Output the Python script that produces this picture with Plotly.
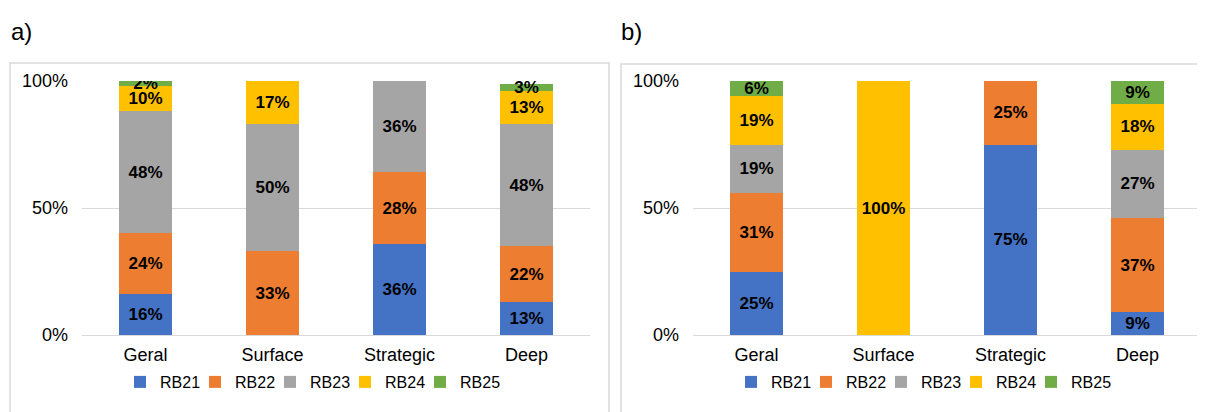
import plotly.graph_objects as go

categories = ["Geral", "Surface", "Strategic", "Deep"]
series_names = ["RB21", "RB22", "RB23", "RB24", "RB25"]
colors = ["#4472C4", "#ED7D31", "#A5A5A5", "#FFC000", "#70AD47"]

# Panel a) values (percent)
a_RB21 = [16, 0, 36, 13]
a_RB22 = [24, 33, 28, 22]
a_RB23 = [48, 50, 36, 48]
a_RB24 = [10, 17, 0, 13]
a_RB25 = [2, 0, 0, 3]

# Panel b) values (percent)
b_RB21 = [25, 0, 75, 9]
b_RB22 = [31, 0, 25, 37]
b_RB23 = [19, 0, 0, 27]
b_RB24 = [19, 100, 0, 18]
b_RB25 = [6, 0, 0, 9]

panel_a = [a_RB21, a_RB22, a_RB23, a_RB24, a_RB25]
panel_b = [b_RB21, b_RB22, b_RB23, b_RB24, b_RB25]

W, H = 1205, 412
OFF = 8  # page body margin offset
FONT = "Liberation Sans, Arial, sans-serif"


def px(xp):
    return (xp - OFF) / W


def py(yp):
    return 1 - (yp - OFF) / H


fig = go.Figure()

for data, xa, ya, leg in [(panel_a, "x", "y", "legend"), (panel_b, "x2", "y2", "legend2")]:
    for name, vals, col in zip(series_names, data, colors):
        fig.add_trace(go.Bar(
            x=categories,
            y=[v / 100 for v in vals],
            name=name,
            marker=dict(color=col, line=dict(width=0)),
            text=[f"{v}%" if v > 0 else "" for v in vals],
            textposition="inside",
            insidetextanchor="middle",
            textangle=0,
            textfont=dict(family=FONT, size=17, color="black", weight="bold"),
            xaxis=xa, yaxis=ya,
            legend=leg,
            hoverinfo="skip",
        ))
    # spacer entry so the last legend label is not clipped
    fig.add_trace(go.Bar(
        x=[None], y=[None], name=" ",
        marker=dict(color="rgba(0,0,0,0)", line=dict(width=0)),
        xaxis=xa, yaxis=ya, legend=leg, hoverinfo="skip",
    ))

ydom = [py(335), py(81)]
axis_common_y = dict(
    range=[0, 1], tickvals=[0, 0.5, 1], ticktext=["0%", "50%", "100%"],
    showgrid=True, gridcolor="#D9D9D9", gridwidth=1,
    zeroline=True, zerolinecolor="#D9D9D9", zerolinewidth=1,
    showline=False, ticks="", ticklabelstandoff=13, automargin=False,
    tickfont=dict(family=FONT, size=18, color="#000000"),
    domain=ydom, fixedrange=True,
)
axis_common_x = dict(
    showgrid=False, zeroline=False, showline=False, ticks="", automargin=False,
    tickfont=dict(family=FONT, size=18, color="#000000"),
    ticklabelstandoff=7, fixedrange=True,
)
legend_common = dict(
    orientation="h", y=py(382), yanchor="middle", xanchor="left",
    font=dict(family=FONT, size=16, color="#000000"),
    itemwidth=30, bgcolor="rgba(0,0,0,0)", traceorder="normal",
    entrywidth=30, entrywidthmode="pixels",
)

fig.update_layout(
    template="none",
    width=W, height=H,
    margin=dict(l=0, r=0, t=0, b=0, pad=0, autoexpand=False),
    paper_bgcolor="white", plot_bgcolor="white",
    barmode="stack", bargap=0.59,
    uniformtext=dict(minsize=17, mode="show"),
    xaxis=dict(domain=[px(82), px(590)], anchor="y", **axis_common_x),
    yaxis=dict(anchor="x", **axis_common_y),
    xaxis2=dict(domain=[px(693), px(1201)], anchor="y2", **axis_common_x),
    yaxis2=dict(anchor="x2", **axis_common_y),
    legend=dict(x=px(120), **legend_common),
    legend2=dict(x=px(731), **legend_common),
    showlegend=True,
)

# Panel border boxes
fig.add_shape(type="rect", xref="paper", yref="paper",
              x0=px(10), x1=px(609), y0=-0.05, y1=py(63),
              line=dict(color="#D9D9D9", width=1.5), fillcolor="rgba(0,0,0,0)", layer="below")
fig.add_shape(type="rect", xref="paper", yref="paper",
              x0=px(621), x1=1.05, y0=-0.05, y1=py(64),
              line=dict(color="#D9D9D9", width=1.5), fillcolor="rgba(0,0,0,0)", layer="below")

# Panel labels
fig.add_annotation(text="a)", xref="paper", yref="paper", x=px(9), y=py(32),
                   xanchor="left", yanchor="middle", showarrow=False,
                   font=dict(family=FONT, size=24, color="#000000"))
fig.add_annotation(text="b)", xref="paper", yref="paper", x=px(619), y=py(32),
                   xanchor="left", yanchor="middle", showarrow=False,
                   font=dict(family=FONT, size=24, color="#000000"))

fig.write_html("out.html")
